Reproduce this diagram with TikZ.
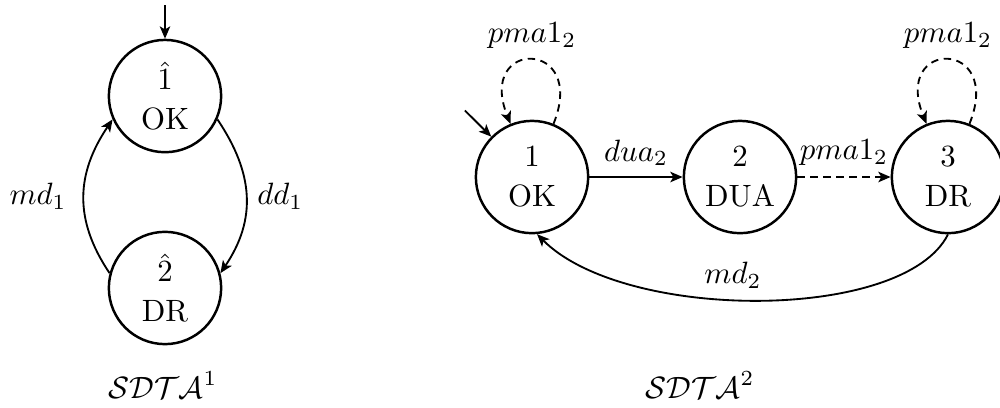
\documentclass[tikz,border=0pt]{standalone}
\usepackage{tikz}
\usetikzlibrary{arrows.meta}

\tikzset{
	state/.style = {circle, draw, thick, minimum size = 1.28cm, inner sep = 0pt, align = center},
	silent/.style = {dash pattern = on 2.4pt off 1.8pt},
}

\begin{document}
\begin{tikzpicture}[>={Stealth[length = 4pt, width = 3.4pt, inset = 1pt]}, semithick]
		\useasboundingbox (0, 0) rectangle (11.4, 4.64);
		% first automaton
		\node[state] (n1) at (1.881, 3.545) {\(\hat{1}\)\\[1pt]OK};
		\node[state] (n2) at (1.881, 1.357) {\(\hat{2}\)\\[1pt]DR};
		\coordinate (init1) at (1.881, 4.58);
		\draw[->] (init1) to (n1);
		\draw[->] (n2.165) .. controls +(124:0.74) and +(236:0.74) .. node[left = 2pt] {\(md_1\)} (n1.204);
		\draw[->] (n1.336) .. controls +(-56:0.74) and +(56:0.74) .. node[right] {\(dd_1\)} (n2.15);
		\node (sdta1) at (1.86, 0.25) {\(\mathcal{SDTA}^1\)};
		% second automaton
		\node[state] (s1) at (6.065, 2.622) {\(1\)\\[1pt]OK};
		\node[state] (s2) at (8.436, 2.622) {\(2\)\\[1pt]DUA};
		\node[state] (s3) at (10.807, 2.622) {\(3\)\\[1pt]DR};
		\coordinate (init2) at (5.30, 3.38);
		\draw[->] (init2) to (s1);
		\draw[->] (s1) to node[above] {\(dua_2\)} (s2);
		\draw[->, silent] (s2) to node[above] {\(pma1_2\)} (s3);
		\draw[->, silent] (s1) to[out = 68, in = 112, looseness = 5.5] node[above] {\(pma1_2\)} (s1);
		\draw[->, silent] (s3) to[out = 68, in = 112, looseness = 5.5] node[above] {\(pma1_2\)} (s3);
		\draw[->] (s3.270) .. controls +(-0.5, -1) and +(1, -1) .. node[above, pos = 0.55] {\(md_2\)} (s1.275);
		\node (sdta2) at (7.98, 0.25) {\(\mathcal{SDTA}^2\)};
	\end{tikzpicture}
\end{document}
